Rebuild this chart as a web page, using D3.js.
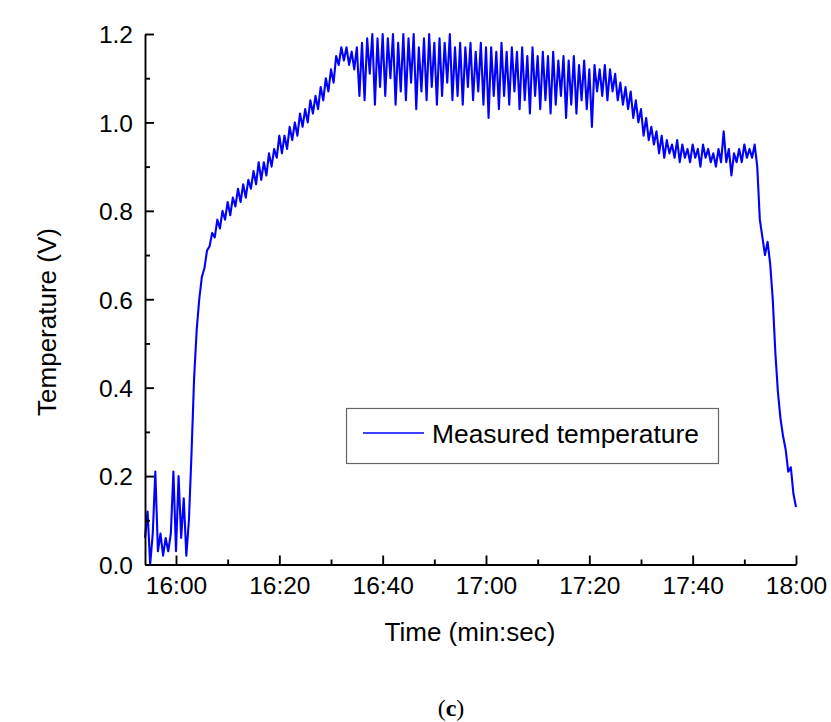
<!DOCTYPE html>
<html>
<head>
<meta charset="utf-8">
<script src="https://cdn.jsdelivr.net/npm/d3@7"></script>
<style>
  html, body { margin: 0; padding: 0; background: #ffffff; }
  svg { display: block; }
</style>
</head>
<body>
<svg id="chart" width="831" height="722"></svg>
<script>
// ---- data ----
const timeStart = 954;      // seconds (15:54)
const timeStep = 0.5;       // sampling interval, seconds
const temperatureV = [
  0.06,0.12,0.00,0.07,0.21,0.03,0.07,0.02,0.06,0.03,
  0.07,0.21,0.03,0.20,0.06,0.15,0.02,0.10,0.25,0.42,
  0.53,0.60,0.65,0.67,0.71,0.72,0.75,0.74,0.78,0.76,
  0.80,0.78,0.82,0.79,0.83,0.81,0.85,0.82,0.86,0.83,
  0.87,0.85,0.89,0.86,0.91,0.87,0.91,0.88,0.93,0.90,
  0.94,0.92,0.97,0.93,0.97,0.94,0.99,0.96,1.00,0.97,
  1.02,0.99,1.03,1.00,1.05,1.02,1.06,1.03,1.08,1.05,
  1.10,1.07,1.12,1.09,1.15,1.13,1.17,1.14,1.17,1.13,
  1.16,1.12,1.17,1.06,1.18,1.05,1.19,1.11,1.20,1.04,
  1.19,1.08,1.20,1.06,1.19,1.10,1.20,1.04,1.18,1.07,
  1.20,1.05,1.19,1.09,1.20,1.03,1.17,1.07,1.19,1.05,
  1.20,1.08,1.18,1.04,1.19,1.06,1.18,1.09,1.20,1.05,
  1.17,1.06,1.18,1.04,1.17,1.08,1.18,1.05,1.16,1.07,
  1.18,1.04,1.17,1.01,1.17,1.06,1.16,1.03,1.18,1.06,
  1.16,1.04,1.17,1.07,1.16,1.03,1.17,1.05,1.15,1.02,
  1.17,1.06,1.15,1.03,1.16,1.05,1.15,1.02,1.16,1.04,
  1.14,1.06,1.15,1.01,1.14,1.04,1.15,1.02,1.13,1.05,
  1.14,1.03,1.12,0.99,1.13,1.07,1.12,1.06,1.13,1.05,
  1.12,1.07,1.11,1.05,1.09,1.04,1.08,1.03,1.07,1.01,
  1.05,1.00,1.03,0.97,1.01,0.96,0.99,0.95,0.98,0.93,
  0.97,0.92,0.96,0.93,0.95,0.92,0.96,0.91,0.95,0.92,
  0.94,0.91,0.95,0.92,0.94,0.90,0.95,0.92,0.94,0.91,
  0.93,0.90,0.94,0.91,0.98,0.91,0.94,0.88,0.93,0.91,
  0.94,0.91,0.95,0.92,0.94,0.92,0.95,0.90,0.78,0.74,
  0.70,0.73,0.68,0.60,0.48,0.39,0.33,0.29,0.26,0.21,
  0.22,0.16,0.13
];
const xDomain = [954, 1080];
const xMajorTicks = [960, 980, 1000, 1020, 1040, 1060, 1080];
const xMinorTicks = [970, 990, 1010, 1030, 1050, 1070];
const yDomain = [0, 1.2];
const yMajorTicks = [0.0, 0.2, 0.4, 0.6, 0.8, 1.0, 1.2];
const yMinorTicks = [0.1, 0.3, 0.5, 0.7, 0.9, 1.1];
const seriesName = "Measured temperature";
const xTitle = "Time (min:sec)";
const yTitle = "Temperature (V)";
const caption = "c";

// ---- layout ----
const plot = { left: 145, right: 796, top: 34, bottom: 564.5 };
const svg = d3.select("#chart");
const font = "'Liberation Sans', Arial, sans-serif";

const x = d3.scaleLinear().domain(xDomain).range([plot.left, plot.right]);
const y = d3.scaleLinear().domain(yDomain).range([plot.bottom, plot.top]);

const fmtTime = t => Math.floor(t / 60) + ":" + String(Math.round(t % 60)).padStart(2, "0");

// data line
const pts = temperatureV.map((v, i) => [timeStart + i * timeStep, v]);
svg.append("path")
  .datum(pts)
  .attr("fill", "none")
  .attr("stroke", "#0000ff")
  .attr("stroke-width", 2.1)
  .attr("stroke-linejoin", "round")
  .attr("d", d3.line().x(d => x(d[0])).y(d => y(d[1])));

// axes
const gx = svg.append("g").attr("transform", `translate(0,${plot.bottom})`);
gx.call(d3.axisBottom(x).tickValues(xMajorTicks).tickFormat(fmtTime)
  .tickSizeInner(-9).tickSizeOuter(0).tickPadding(12));
const gxm = svg.append("g").attr("transform", `translate(0,${plot.bottom})`);
gxm.call(d3.axisBottom(x).tickValues(xMinorTicks).tickFormat("")
  .tickSizeInner(-5).tickSizeOuter(0));
gxm.select(".domain").remove();

const gy = svg.append("g").attr("transform", `translate(${plot.left},0)`);
gy.call(d3.axisLeft(y).tickValues(yMajorTicks).tickFormat(d3.format(".1f"))
  .tickSizeInner(-9).tickSizeOuter(0).tickPadding(12));
const gym = svg.append("g").attr("transform", `translate(${plot.left},0)`);
gym.call(d3.axisLeft(y).tickValues(yMinorTicks).tickFormat("")
  .tickSizeInner(-5).tickSizeOuter(0));
gym.select(".domain").remove();

svg.selectAll(".domain, .tick line")
  .attr("stroke", "#000").attr("stroke-width", 1.9);
svg.selectAll(".tick text")
  .attr("fill", "#000")
  .style("font-family", font).style("font-size", "24.5px");
gx.selectAll(".tick text").attr("dy", "0.71em");
gy.selectAll(".tick text").attr("dy", "0.36em");

// axis titles
svg.append("text")
  .attr("x", 470).attr("y", 641)
  .attr("text-anchor", "middle")
  .style("font-family", font).style("font-size", "26px")
  .text(xTitle);
svg.append("text")
  .attr("transform", `translate(56,322) rotate(-90)`)
  .attr("text-anchor", "middle")
  .style("font-family", font).style("font-size", "26px")
  .text(yTitle);

// legend
const lg = svg.append("g");
lg.append("rect").attr("x", 346.5).attr("y", 408.5).attr("width", 372).attr("height", 55)
  .attr("fill", "#ffffff").attr("stroke", "#666").attr("stroke-width", 1.2);
lg.append("line").attr("x1", 363).attr("x2", 424).attr("y1", 433).attr("y2", 433)
  .attr("stroke", "#0000ff").attr("stroke-width", 1.6);
lg.append("text").attr("x", 432).attr("y", 443)
  .style("font-family", font).style("font-size", "26.4px")
  .text(seriesName);

// caption
const cap = svg.append("text").attr("x", 451).attr("y", 716)
  .attr("text-anchor", "middle")
  .style("font-family", "'Liberation Serif', 'Times New Roman', serif")
  .style("font-size", "24px");
cap.append("tspan").text("(");
cap.append("tspan").style("font-weight", "bold").text(caption);
cap.append("tspan").text(")");
</script>
</body>
</html>
